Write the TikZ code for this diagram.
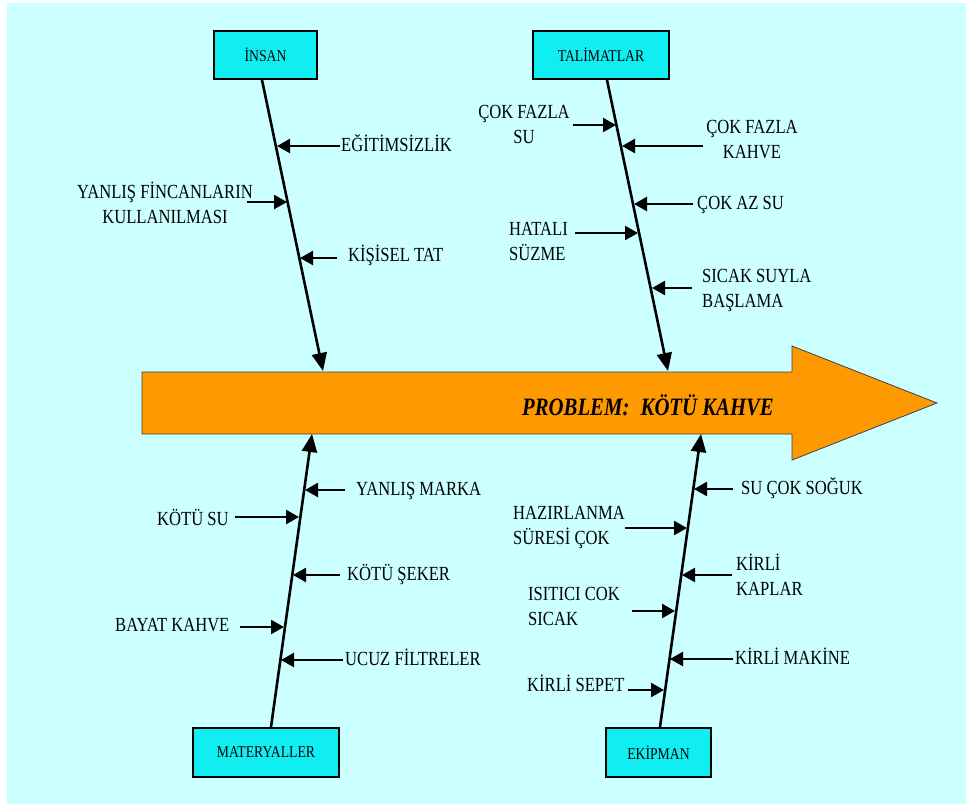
\documentclass[tikz,border=0pt]{standalone}
\usepackage{fontspec}
\setmainfont{Liberation Serif}[FakeStretch=0.83]
\usetikzlibrary{arrows.meta}
\definecolor{bg}{HTML}{CCFFFF}
\definecolor{boxc}{HTML}{11EEF2}
\definecolor{orng}{HTML}{FF9900}
\begin{document}
\begin{tikzpicture}[x=1pt,y=-1pt,
  cat/.style={draw=black,line width=1.8pt,fill=boxc,inner sep=0pt,font=\fontsize{16.5}{18}\selectfont},
  lbl/.style={inner sep=0pt,font=\fontsize{20}{25.5}\selectfont},
  rib/.style={line width=2.4pt,-{Triangle[length=13pt,width=14pt]}},
  spine/.style={line width=2.6pt,-{Triangle[length=18pt,width=15pt]}}]
\useasboundingbox (0,0) rectangle (970,807);
\fill[white] (0,0) rectangle (970,807);
\fill[bg] (7,3) rectangle (966,804);

% head arrow
\draw[fill=orng,draw=black!75,line width=0.8pt] (142,372) -- (792,372) -- (792,346) -- (937,403) -- (792,460) -- (792,434) -- (142,434) -- cycle;
\node[inner sep=0pt,anchor=base west,font=\fontsize{25}{30}\selectfont\bfseries\itshape] (prob) at (522,415) {PROBLEM:\hspace{0.45em}KÖTÜ KAHVE};

% category boxes
\node[cat,minimum width=103pt,minimum height=48pt] (insan) at (265.5,55) {İNSAN};
\node[cat,minimum width=136pt,minimum height=48pt] (talim) at (601,55) {TALİMATLAR};
\node[cat,minimum width=146pt,minimum height=49pt] (mater) at (266,752.5) {MATERYALLER};
\node[cat,minimum width=105pt,minimum height=49pt] (ekip) at (658.5,752.5) {EKİPMAN};

% spines
\coordinate (i0) at (262,80);  \coordinate (i1) at (323,371);
\coordinate (t0) at (607,80);  \coordinate (t1) at (668,371);
\coordinate (m0) at (271,727); \coordinate (m1) at (312,434);
\coordinate (e0) at (660,727); \coordinate (e1) at (701,434);
\draw[spine] (i0) -- (i1);
\draw[spine] (t0) -- (t1);
\draw[spine] (m0) -- (m1);
\draw[spine] (e0) -- (e1);

% INSAN
\node[lbl,anchor=base west] (l1) at (341,151.5) {EĞİTİMSİZLİK};
\draw[rib] (340,146) -- (277,146);
\node[lbl,anchor=base,align=center] (l2) at (165,223.5) {YANLIŞ FİNCANLARIN\\KULLANILMASI};
\draw[rib] (247,202) -- (287,202);
\node[lbl,anchor=base west] (l3) at (348,261.5) {KİŞİSEL TAT};
\draw[rib] (337,258) -- (300,258);

% TALIMATLAR
\node[lbl,anchor=base,align=center] (l4) at (524,143.5) {ÇOK FAZLA\\SU};
\draw[rib] (573,125) -- (616,125);
\node[lbl,anchor=base,align=center] (l5) at (752,158.5) {ÇOK FAZLA\\KAHVE};
\draw[rib] (703,146) -- (622,146);
\node[lbl,anchor=base west] (l6) at (697,209.5) {ÇOK AZ SU};
\draw[rib] (693,204) -- (634,204);
\node[lbl,anchor=base west,align=left] (l7) at (509,260.5) {HATALI\\SÜZME};
\draw[rib] (575,233) -- (638,233);
\node[lbl,anchor=base west,align=left] (l8) at (702,307.5) {SICAK SUYLA\\BAŞLAMA};
\draw[rib] (692,288) -- (652,288);

% MATERYALLER
\node[lbl,anchor=base west] (l9) at (356,495.5) {YANLIŞ MARKA};
\draw[rib] (345,490) -- (305,490);
\node[lbl,anchor=base west] (l10) at (157,525) {KÖTÜ SU};
\draw[rib] (235,517) -- (299,517);
\node[lbl,anchor=base west] (l11) at (347,580.5) {KÖTÜ ŞEKER};
\draw[rib] (340,575) -- (293,575);
\node[lbl,anchor=base west] (l12) at (115,631.5) {BAYAT KAHVE};
\draw[rib] (240,627) -- (284,627);
\node[lbl,anchor=base west] (l13) at (345,665.5) {UCUZ FİLTRELER};
\draw[rib] (343,660) -- (281,660);

% EKIPMAN
\node[lbl,anchor=base west] (l14) at (741,494.5) {SU ÇOK SOĞUK};
\draw[rib] (733,489) -- (694,489);
\node[lbl,anchor=base west,align=left] (l15) at (513,544.5) {HAZIRLANMA\\SÜRESİ ÇOK};
\draw[rib] (625,528) -- (687,528);
\node[lbl,anchor=base west,align=left] (l16) at (736,595.5) {KİRLİ\\KAPLAR};
\draw[rib] (732,575) -- (682,575);
\node[lbl,anchor=base west,align=left] (l17) at (528,625.5) {ISITICI COK\\SICAK};
\draw[rib] (632,611) -- (675,611);
\node[lbl,anchor=base west] (l18) at (735,664.5) {KİRLİ MAKİNE};
\draw[rib] (733,659) -- (670,659);
\node[lbl,anchor=base west] (l19) at (527,691.5) {KİRLİ SEPET};
\draw[rib] (628,690) -- (664,690);
\end{tikzpicture}
\end{document}
